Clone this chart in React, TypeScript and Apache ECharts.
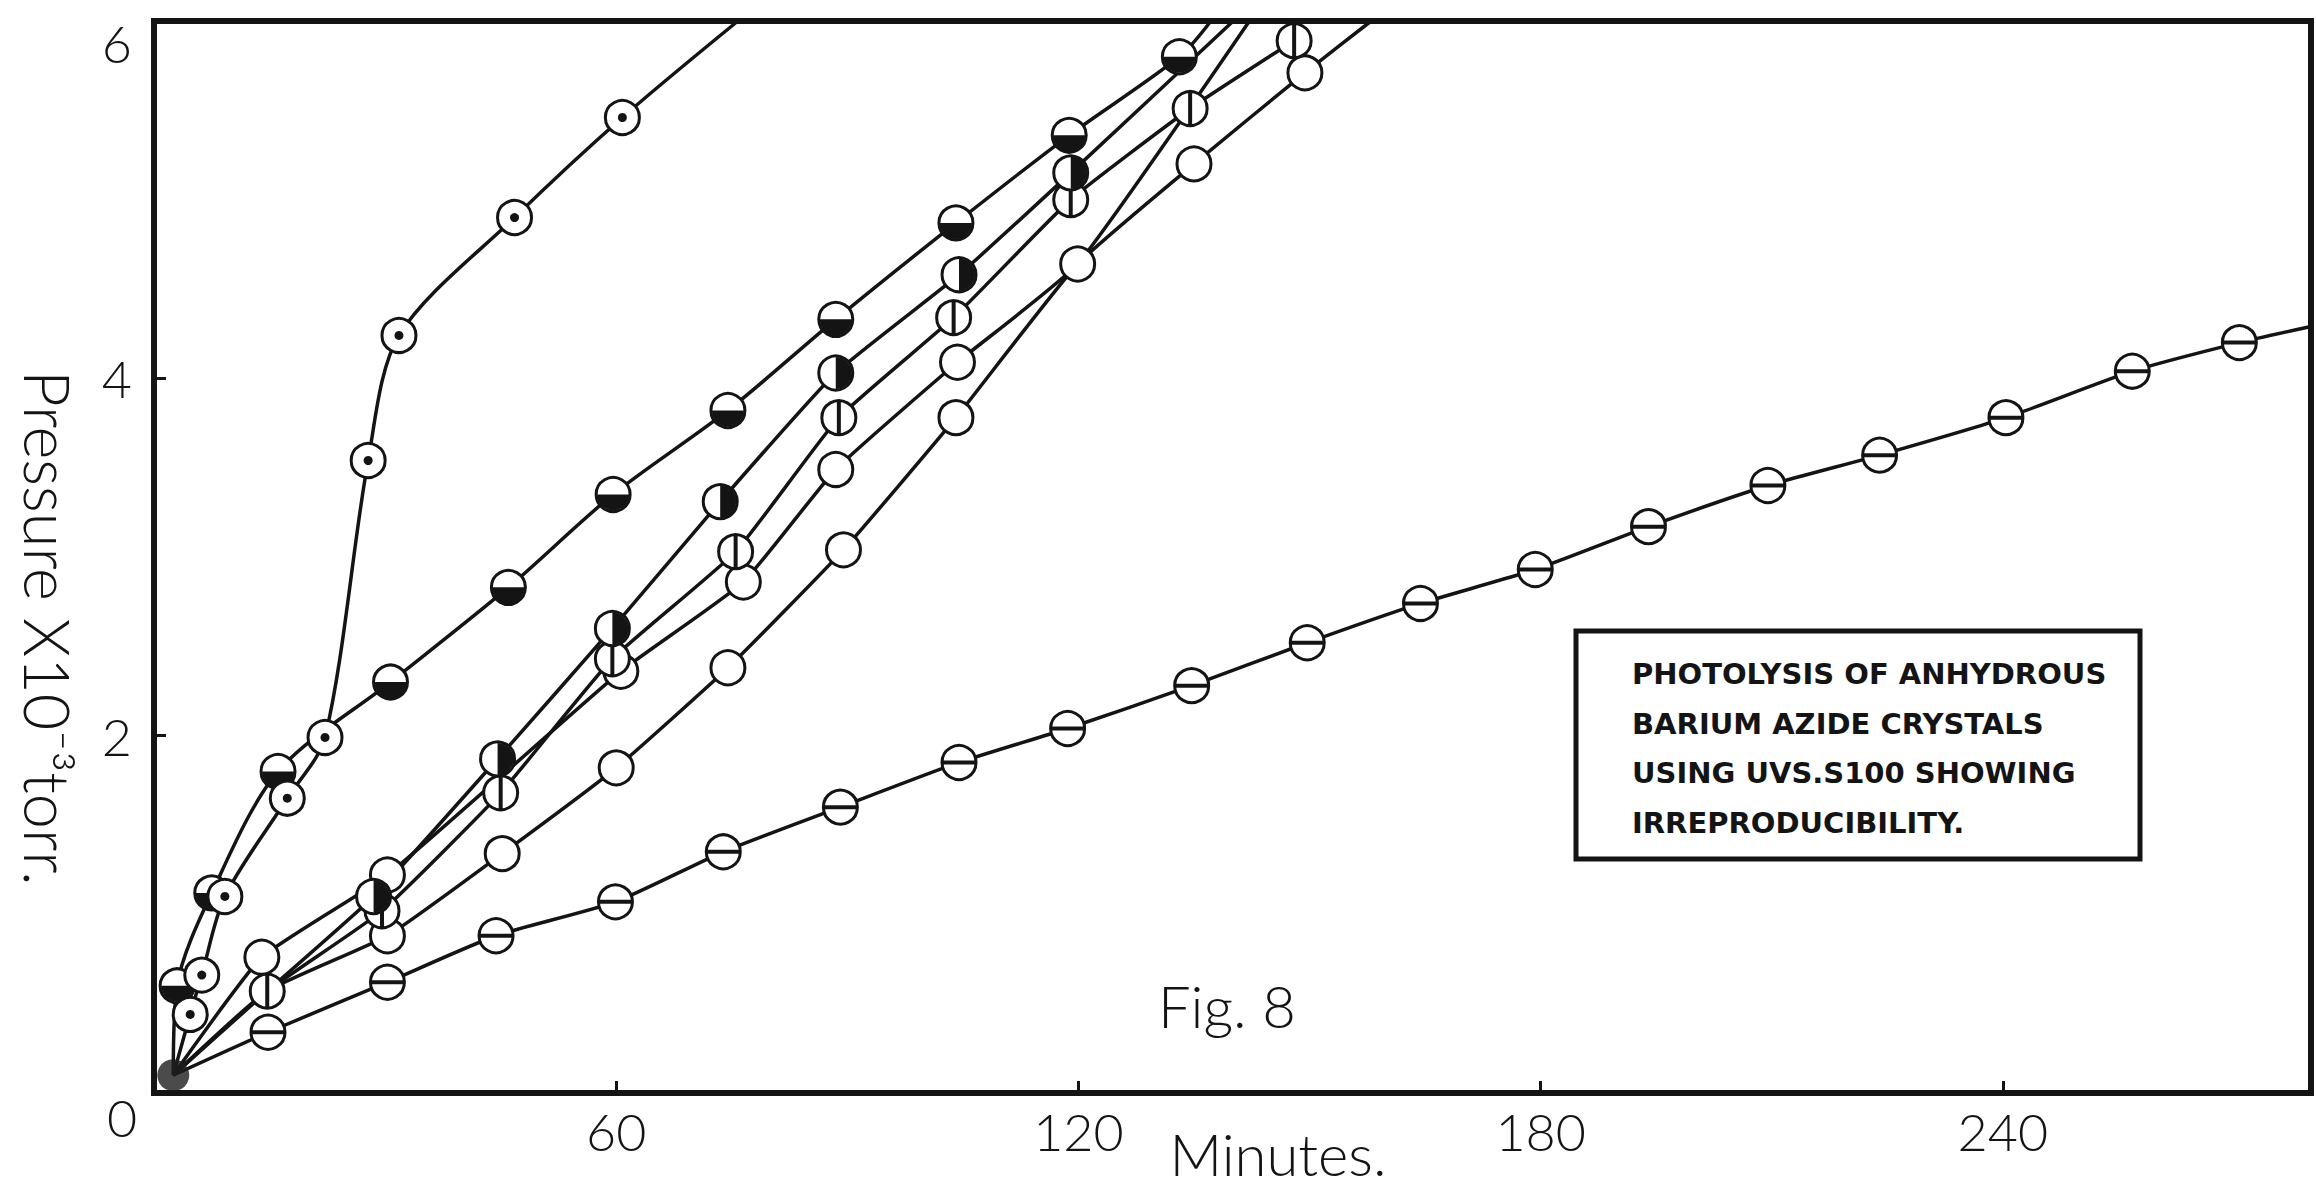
import React, { useEffect, useRef } from 'react';
import * as echarts from 'echarts';

// Axis extents and tick values (minutes, pressure x10^-3 torr)
const X_MAX = 280;
const Y_MAX = 6;
const X_INTERVAL = 60;
const Y_INTERVAL = 2;

// Each point: [minutes, pressure, hasMarker (1) or pass-through vertex (0)]
const originPoint = [[2.5, 0.1]];

const dottedRun = [
  [2.5, 0.1, 0], [4.7, 0.44, 1], [6.2, 0.66, 1], [9.2, 1.1, 1], [17.3, 1.65, 1],
  [22.2, 1.99, 1], [27.8, 3.54, 1], [31.8, 4.24, 1], [46.8, 4.9, 1], [60.8, 5.46, 1],
  [75.8, 6.0, 0],
];

const lowerHalfFilledRun = [
  [2.5, 0.1, 0], [3.0, 0.6, 1], [7.5, 1.12, 1], [16.1, 1.8, 1], [30.7, 2.3, 1],
  [46.0, 2.83, 1], [59.6, 3.35, 1], [74.5, 3.82, 1], [88.5, 4.33, 1], [104.1, 4.87, 1],
  [118.8, 5.36, 1], [133.1, 5.8, 1], [137.2, 6.0, 0],
];

const rightHalfFilledRun = [
  [2.5, 0.1, 0], [14.7, 0.57, 0], [28.5, 1.1, 1], [44.6, 1.87, 1], [59.5, 2.6, 1],
  [73.5, 3.31, 1], [88.5, 4.03, 1], [104.5, 4.58, 1], [119.0, 5.15, 1], [140.1, 6.0, 0],
];

const verticalBarRun = [
  [2.5, 0.1, 0], [14.7, 0.57, 1], [29.6, 1.02, 1], [45.0, 1.68, 1], [59.5, 2.43, 1],
  [75.5, 3.03, 1], [88.9, 3.78, 1], [103.8, 4.34, 1], [119.0, 5.0, 1], [134.5, 5.51, 1],
  [148.0, 5.89, 1],
];

const openUpperRun = [
  [2.5, 0.1, 0], [14.0, 0.76, 1], [30.3, 1.22, 1], [60.6, 2.36, 1], [76.5, 2.86, 1],
  [88.5, 3.49, 1], [104.3, 4.09, 1], [119.9, 4.64, 1], [142.2, 6.0, 0],
];

const openLowerRun = [
  [2.5, 0.1, 0], [14.7, 0.57, 0], [30.3, 0.88, 1], [45.2, 1.34, 1], [60.0, 1.82, 1],
  [74.5, 2.38, 1], [89.5, 3.04, 1], [104.1, 3.78, 1], [119.9, 4.64, 0], [135.0, 5.2, 1],
  [149.4, 5.71, 1], [158.0, 6.0, 0],
];

const horizontalBarRun = [
  [2.5, 0.1, 0], [14.8, 0.34, 1], [30.3, 0.62, 1], [44.4, 0.88, 1], [59.9, 1.07, 1],
  [73.9, 1.35, 1], [89.1, 1.6, 1], [104.5, 1.85, 1], [118.6, 2.04, 1], [134.7, 2.28, 1],
  [149.7, 2.52, 1], [164.4, 2.74, 1], [179.3, 2.93, 1], [194.0, 3.17, 1], [209.5, 3.4, 1],
  [224.0, 3.57, 1], [240.4, 3.78, 1], [256.8, 4.04, 1], [270.7, 4.2, 1], [280, 4.29, 0],
];

const boxLines = [
  'PHOTOLYSIS OF ANHYDROUS',
  'BARIUM AZIDE CRYSTALS',
  'USING UVS.S100 SHOWING',
  'IRREPRODUCIBILITY.',
];

const INK = '#141414';
const LABEL_FONT = 'Lato, "DejaVu Sans", sans-serif';
const R = 17;

const runs = [
  { name: 'run-horizontal', kind: 'hbar', pts: horizontalBarRun, smooth: 0.2 },
  { name: 'run-open-lower', kind: 'open', pts: openLowerRun, smooth: 0.15 },
  { name: 'run-open-upper', kind: 'open', pts: openUpperRun, smooth: 0.15 },
  { name: 'run-vertical', kind: 'vbar', pts: verticalBarRun, smooth: 0.15 },
  { name: 'run-right-half', kind: 'right', pts: rightHalfFilledRun, smooth: 0.15 },
  { name: 'run-lower-half', kind: 'lower', pts: lowerHalfFilledRun, smooth: 0.3 },
  { name: 'run-dotted', kind: 'dot', pts: dottedRun, smooth: 0.3 },
];

function makeRenderer(kind: string) {
  return (params: any, api: any) => {
    const c = api.coord([api.value(0), api.value(1)]);
    const cx = c[0];
    const cy = c[1];
    const children: any[] = [
      { type: 'circle', shape: { cx, cy, r: R }, style: { fill: '#fff', stroke: INK, lineWidth: 3 } },
    ];
    if (kind === 'dot') {
      children.push({ type: 'circle', shape: { cx, cy, r: 4.5 }, style: { fill: INK } });
    } else if (kind === 'lower') {
      children.push({
        type: 'sector',
        shape: { cx, cy, r: R - 1, r0: 0, startAngle: 0, endAngle: Math.PI, clockwise: true },
        style: { fill: INK },
      });
    } else if (kind === 'right') {
      children.push({
        type: 'sector',
        shape: { cx, cy, r: R - 1, r0: 0, startAngle: -Math.PI / 2, endAngle: Math.PI / 2, clockwise: true },
        style: { fill: INK },
      });
    } else if (kind === 'vbar') {
      children.push({
        type: 'line',
        shape: { x1: cx, y1: cy - R, x2: cx, y2: cy + R },
        style: { stroke: INK, lineWidth: 4 },
      });
    } else if (kind === 'hbar') {
      children.push({
        type: 'line',
        shape: { x1: cx - R, y1: cy, x2: cx + R, y2: cy },
        style: { stroke: INK, lineWidth: 4 },
      });
    }
    return { type: 'group', children };
  };
}

function buildOption() {
  const series: any[] = [];
  runs.forEach((run) => {
    series.push({
      name: run.name,
      type: 'line',
      data: run.pts.map((p) => [p[0], p[1]]),
      symbol: 'none',
      smooth: run.smooth,
      lineStyle: { color: INK, width: 3.5 },
      z: 2,
      silent: true,
    });
  });
  runs.forEach((run) => {
    series.push({
      name: run.name + '-marks',
      type: 'custom',
      coordinateSystem: 'cartesian2d',
      data: run.pts.filter((p) => p[2] === 1).map((p) => [p[0], p[1]]),
      encode: { x: 0, y: 1 },
      renderItem: makeRenderer(run.kind),
      z: 5,
      silent: true,
    });
  });
  series.push({
    name: 'start',
    type: 'scatter',
    data: originPoint,
    symbol: 'circle',
    symbolSize: 32,
    itemStyle: { color: '#1e1e1e' },
    z: 6,
    silent: true,
  });

  const labelStyle = { fontFamily: LABEL_FONT, fontWeight: 300, fontSize: 52, color: INK };

  return {
    animation: false,
    backgroundColor: '#fff',
    grid: {
      left: 154,
      right: 5,
      top: 21,
      bottom: 95,
      show: true,
      borderColor: INK,
      borderWidth: 6,
    },
    xAxis: {
      type: 'value',
      min: 0,
      max: X_MAX,
      interval: X_INTERVAL,
      axisLine: { show: true, lineStyle: { color: INK, width: 6 } },
      axisTick: { show: true, inside: true, length: 12, lineStyle: { color: INK, width: 3 } },
      splitLine: { show: false },
      axisLabel: {
        ...labelStyle,
        margin: 12,
        formatter: (v: number) => (v === 0 || v % X_INTERVAL !== 0 ? '' : String(v)),
      },
    },
    yAxis: {
      type: 'value',
      min: 0,
      max: Y_MAX,
      interval: Y_INTERVAL,
      axisLine: { show: true, lineStyle: { color: INK, width: 6 } },
      axisTick: { show: true, inside: true, length: 12, lineStyle: { color: INK, width: 3 } },
      splitLine: { show: false },
      axisLabel: {
        ...labelStyle,
        margin: 22,
        formatter: (v: number) => (v === 0 ? '' : v === 6 ? '{t6|6}' : '{tn|' + v + '}'),
        rich: {
          t6: { ...labelStyle, padding: [44, 0, 0, 0] },
          tn: { ...labelStyle },
        },
      },
    },
    graphic: [
      {
        type: 'text',
        x: 122,
        y: 1117,
        silent: true,
        style: { text: '0', font: `300 52px ${LABEL_FONT}`, fill: INK, align: 'center', verticalAlign: 'middle' },
      },
      {
        type: 'text',
        x: 48,
        y: 628,
        rotation: -Math.PI / 2,
        silent: true,
        style: {
          text: 'Pressure X10⁻³torr.',
          font: `300 63px ${LABEL_FONT}`,
          fill: INK,
          align: 'center',
          verticalAlign: 'middle',
        },
      },
      {
        type: 'text',
        x: 1278,
        y: 1153,
        silent: true,
        style: { text: 'Minutes.', font: `300 58px ${LABEL_FONT}`, fill: INK, align: 'center', verticalAlign: 'middle' },
      },
      {
        type: 'text',
        x: 1227,
        y: 1005,
        silent: true,
        style: { text: 'Fig. 8', font: `300 58px ${LABEL_FONT}`, fill: INK, align: 'center', verticalAlign: 'middle' },
      },
      {
        type: 'rect',
        silent: true,
        shape: { x: 1576, y: 631, width: 564, height: 228 },
        style: { fill: '#fff', stroke: INK, lineWidth: 5 },
        z: 10,
      },
      ...boxLines.map((line, i) => ({
        type: 'text',
        x: 1632,
        y: 674 + i * 49.5,
        silent: true,
        z: 11,
        style: {
          text: line,
          font: `bold 29px "DejaVu Sans", sans-serif`,
          fill: INK,
          align: 'left',
          verticalAlign: 'middle',
        },
      })),
    ],
    series,
  };
}

export default function App() {
  const ref = useRef<HTMLDivElement>(null);
  useEffect(() => {
    document.body.style.margin = '0';
    const chart = echarts.init(ref.current as HTMLDivElement, null, { renderer: 'svg' });
    chart.setOption(buildOption() as any);
    return () => chart.dispose();
  }, []);
  return <div ref={ref} style={{ width: 2316, height: 1188, background: '#fff' }} />;
}
